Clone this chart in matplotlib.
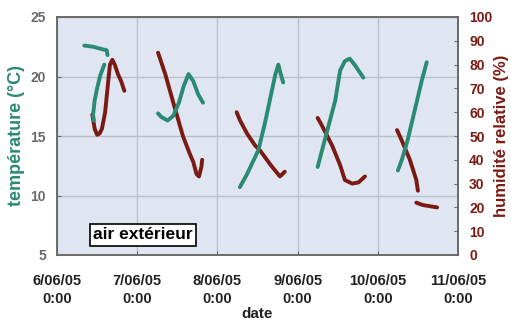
import numpy as np
import matplotlib
matplotlib.use("Agg")
import matplotlib.pyplot as plt

plt.rcParams['font.family'] = ['Liberation Sans', 'DejaVu Sans']
plt.rcParams['font.weight'] = 'bold'

nan = np.nan
# time in days (June 2005); segments separated by nan
temp_t = [6.34, 6.45, 6.56, 6.62, 6.63, nan,
          6.59, 6.54, 6.50, 6.47, 6.45, 6.46, nan,
          7.26, 7.30, 7.38, 7.45, 7.52, 7.58, 7.64, 7.70, 7.76, 7.82, nan,
          8.28, 8.37, 8.51, 8.59, 8.66, 8.72, 8.76, 8.79, 8.82, nan,
          9.25, 9.34, 9.47, 9.53, 9.59, 9.65, 9.71, 9.77, 9.82, nan,
          10.25, 10.30, 10.37, 10.43, 10.49, 10.55, 10.61]
temp_v = [22.6, 22.5, 22.3, 22.2, 21.8, nan,
          21.0, 20.1, 19.0, 18.0, 16.8, 16.3, nan,
          16.9, 16.6, 16.3, 16.7, 17.8, 19.2, 20.2, 19.6, 18.5, 17.8, nan,
          10.7, 11.8, 13.8, 16.0, 18.2, 20.1, 21.0, 20.2, 19.5, nan,
          12.4, 14.7, 18.0, 20.5, 21.3, 21.5, 21.0, 20.4, 19.9, nan,
          12.1, 13.0, 14.6, 16.3, 18.0, 19.7, 21.2]

hum_t = [6.44, 6.47, 6.50, 6.53, 6.56, 6.60, 6.63, 6.66, 6.69, 6.72, 6.76, 6.80, 6.84, nan,
         7.26, 7.35, 7.45, 7.57, 7.65, 7.70, 7.74, 7.77, 7.80, 7.81, nan,
         8.24, 8.28, 8.37, 8.47, 8.53, 8.66, 8.78, 8.84, nan,
         9.25, 9.30, 9.43, 9.53, 9.59, 9.68, 9.76, 9.84, nan,
         10.24, 10.30, 10.40, 10.48, 10.50, nan,
         10.48, 10.56, 10.65, 10.74]
hum_v = [59, 53, 50.5, 51, 53, 60, 70, 80, 82, 80, 76, 73, 69, nan,
         85, 76, 64, 50, 43, 39, 34, 33, 37, 40, nan,
         60, 56.7, 51, 46, 44, 38, 33, 35, nan,
         57.6, 54.6, 46, 37.8, 31.5, 30, 30.5, 33, nan,
         52.5, 48, 40, 31.5, 27, nan,
         22, 21, 20.5, 20]

xticks = [6, 7, 8, 9, 10, 11]
xticklabels = ["6/06/05\n0:00", "7/06/05\n0:00", "8/06/05\n0:00",
               "9/06/05\n0:00", "10/06/05\n0:00", "11/06/05\n0:00"]
yticks_left = [5, 10, 15, 20, 25]
yticks_right = [0, 10, 20, 30, 40, 50, 60, 70, 80, 90, 100]

teal = '#2a8a72'
red = '#7a1a12'

fig = plt.figure(figsize=(5.11, 3.20), dpi=100)
ax = fig.add_axes([57/511, 1-255/320, (458-57)/511, (255-17)/320])
ax.set_facecolor('#dfe6f2')
ax.set_xlim(6, 11)
ax.set_ylim(5, 25)
ax.set_xticks(xticks)
ax.set_xticklabels(xticklabels, fontsize=10.5, fontweight='bold', color='#222222',
                   linespacing=1.3)
ax.set_yticks(yticks_left)
ax.set_yticklabels([str(v) for v in yticks_left], fontsize=10, fontweight='bold', color='#6a6a6a')
ax.grid(True, color='#b9c1cc', linewidth=1.0)
ax.set_axisbelow(True)
ax.tick_params(axis='x', direction='in', length=3, color='#666666', pad=14)
ax.tick_params(axis='y', direction='in', length=3, color='#666666', pad=8)
for s in ax.spines.values():
    s.set_color('#6a6a6a')
    s.set_linewidth(1.2)

ax2 = ax.twinx()
ax2.set_ylim(0, 100)
ax2.set_yticks(yticks_right)
ax2.set_yticklabels([str(v) for v in yticks_right], fontsize=10, fontweight='bold', color=red)
ax2.tick_params(axis='y', direction='in', length=3, color='#666666', pad=8)
for s in ax2.spines.values():
    s.set_color('#6a6a6a')
    s.set_linewidth(1.2)

ax2.plot(hum_t, hum_v, color=red, linewidth=2.8, solid_capstyle='round',
         solid_joinstyle='round', zorder=3)
ax2.plot(temp_t, temp_v, color=teal, linewidth=2.8, solid_capstyle='round',
         solid_joinstyle='round', zorder=4, transform=ax.transData)

ax.set_ylabel('température (°C)', color=teal, fontsize=13, fontweight='bold', labelpad=4)
ax2.set_ylabel('humidité relative (%)', color=red, fontsize=12, fontweight='bold', labelpad=1)
ax.set_xlabel('date', fontsize=11, fontweight='bold', labelpad=1, color='#222222')

ax2.text(6.45, 6.7, 'air extérieur', fontsize=12.5, fontweight='bold', color='black',
         ha='left', va='center', zorder=6, transform=ax.transData,
         bbox=dict(boxstyle='square,pad=0.2', facecolor='white', edgecolor='black', linewidth=1.2))

fig.savefig('out.png', dpi=100)
